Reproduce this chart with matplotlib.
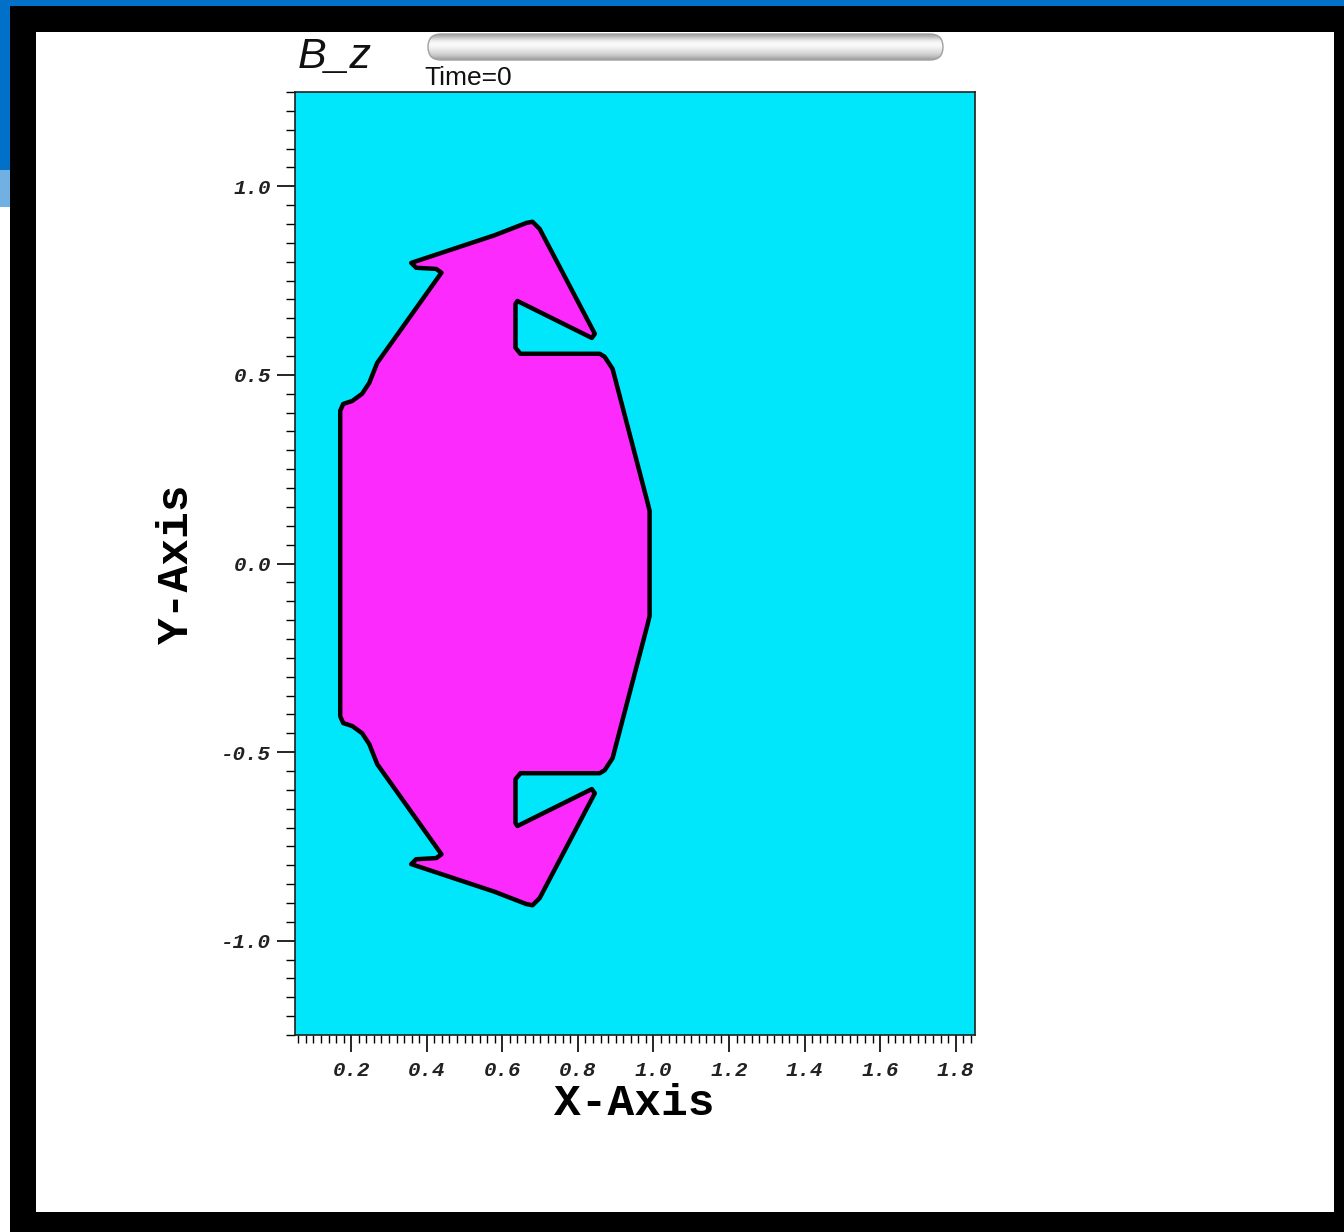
import numpy as np
import matplotlib
matplotlib.use("Agg")
import matplotlib.pyplot as plt
from matplotlib.patches import Rectangle, FancyBboxPatch, Polygon
from matplotlib.ticker import MultipleLocator, FormatStrFormatter

plt.rcParams['axes.unicode_minus'] = False

# ---- data: outline of the B_z region (x, y) ----
shape_x = [0.664, 0.680, 0.699, 0.845, 0.837, 0.640, 0.635, 0.635, 0.648, 0.858,
           0.871, 0.892, 0.985, 0.990,
           0.990, 0.985, 0.892, 0.871, 0.858, 0.648, 0.635, 0.635, 0.640, 0.837,
           0.845, 0.699, 0.680, 0.664,
           0.579, 0.359, 0.372, 0.425, 0.439, 0.269, 0.248, 0.229, 0.203, 0.179, 0.171,
           0.171, 0.179, 0.203, 0.229, 0.248, 0.269, 0.439, 0.425, 0.372, 0.359, 0.579]
shape_y = [0.903, 0.906, 0.887, 0.609, 0.598, 0.696, 0.688, 0.572, 0.556, 0.556,
           0.548, 0.516, 0.160, 0.139,
           -0.139, -0.160, -0.516, -0.548, -0.556, -0.556, -0.572, -0.688, -0.696, -0.598,
           -0.609, -0.887, -0.906, -0.903,
           -0.870, -0.797, -0.784, -0.781, -0.771, -0.532, -0.479, -0.450, -0.431, -0.423, -0.405,
           0.405, 0.423, 0.431, 0.450, 0.479, 0.532, 0.771, 0.781, 0.784, 0.797, 0.870]

x_limits = [0.05, 1.85]
y_limits = [-1.25, 1.25]
x_major, x_minor = 0.2, 0.02
y_major, y_minor = 0.5, 0.05
title_text = "B_z"
time_text = "Time=0"
x_label = "X-Axis"
y_label = "Y-Axis"

W, H = 1344, 1232
fig = plt.figure(figsize=(W / 100, H / 100), dpi=100, facecolor='black')

def fr(x0, y0, x1, y1):
    # pixel box (top-left origin) -> figure fraction rect
    return (x0 / W, 1 - y1 / H, (x1 - x0) / W, (y1 - y0) / H)

def add_rect(x0, y0, x1, y1, color):
    l, b, w, h = fr(x0, y0, x1, y1)
    fig.patches.append(Rectangle((l, b), w, h, transform=fig.transFigure,
                                 facecolor=color, edgecolor='none', zorder=-10))

# frame
add_rect(0, 0, W, 6, '#0070c8')
add_rect(0, 0, 10, 170, '#0070c8')
add_rect(0, 170, 10, 207, '#70b0e2')
add_rect(0, 207, 10, H, '#ffffff')
add_rect(36, 32, 1334, 1212, '#ffffff')

# main axes
ax = fig.add_axes(fr(294.5, 92, 974.5, 1035), zorder=5)
ax.set_facecolor('#00e6fa')
ax.set_xlim(*x_limits)
ax.set_ylim(*y_limits)

poly = Polygon(np.column_stack([shape_x, shape_y]), closed=True,
               facecolor='#fc2afc', edgecolor='black', linewidth=3.2, joinstyle='round')
ax.add_patch(poly)

for s in ax.spines.values():
    s.set_linewidth(1.2)
    s.set_color('#202020')

ax.xaxis.set_major_locator(MultipleLocator(x_major))
ax.xaxis.set_minor_locator(MultipleLocator(x_minor))
ax.yaxis.set_major_locator(MultipleLocator(y_major))
ax.yaxis.set_minor_locator(MultipleLocator(y_minor))
ax.xaxis.set_major_formatter(FormatStrFormatter('%.1f'))
ax.yaxis.set_major_formatter(FormatStrFormatter('%.1f'))

ax.tick_params(axis='x', which='major', direction='out', length=12, width=1.2, pad=7)
ax.tick_params(axis='x', which='minor', direction='out', length=5.5, width=1.0)
ax.tick_params(axis='y', which='major', direction='out', length=13, width=1.2, pad=4)
ax.tick_params(axis='y', which='minor', direction='out', length=6.5, width=1.0)
for lbl in ax.get_xticklabels() + ax.get_yticklabels():
    lbl.set_fontfamily('Liberation Mono')
    lbl.set_fontweight('bold')
    lbl.set_fontstyle('italic')
    lbl.set_fontsize(15)
    lbl.set_color('#222222')

ax.set_xlabel(x_label, family='Liberation Mono', weight='bold', size=32)
ax.xaxis.label.set_va('baseline')
ax.xaxis.set_label_coords(0.5, -0.085)
ax.set_ylabel(y_label, family='Liberation Mono', weight='bold', size=32)
ax.yaxis.label.set_va('center')
ax.yaxis.set_label_coords(-0.173, 0.5)

# title texts
fig.text(298 / W, 1 - 68 / H, title_text, family='Liberation Sans', style='italic',
         size=31, ha='left', va='baseline', color='#111111')
fig.text(424 / W, 1 - 85 / H, time_text, family='Liberation Sans', size=19,
         ha='left', va='baseline', color='#111111')

# slider bar
bx = fig.add_axes(fr(427, 33, 944, 61), zorder=5)
bx.set_xlim(0, 517)
bx.set_ylim(0, 28)
bx.axis('off')
grad = np.array([0.62, 0.70, 0.80, 0.90, 0.96, 0.98, 0.97, 0.94, 0.90, 0.86, 0.82, 0.76, 0.68, 0.60])
img = bx.imshow(np.tile(grad[:, None], (1, 10)), cmap='gray', vmin=0, vmax=1,
                extent=(0, 517, 0, 28), aspect='auto', interpolation='bicubic')
clip = FancyBboxPatch((1, 1), 515, 26, boxstyle='round,pad=0,rounding_size=13',
                      facecolor='none', edgecolor='#a0a0a0', linewidth=1.0)
bx.add_patch(clip)
img.set_clip_path(clip)

fig.savefig('out.png', dpi=100, facecolor='black')
